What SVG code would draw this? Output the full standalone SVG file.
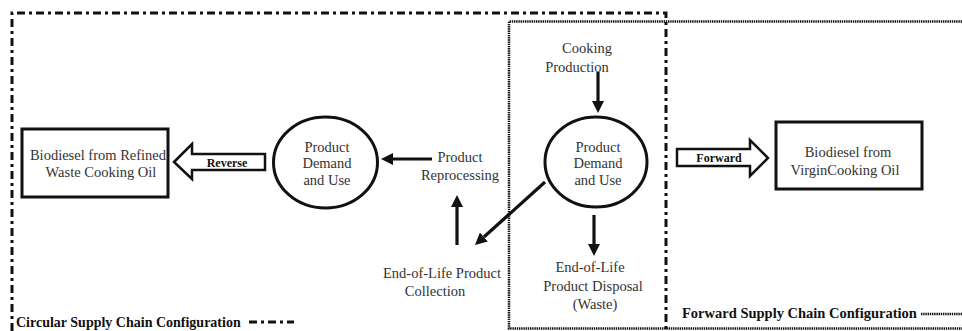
<svg xmlns="http://www.w3.org/2000/svg" width="962" height="331" viewBox="0 0 962 331">
<defs>
<style>
.nt{font-family:"Liberation Serif","Times New Roman",serif;font-size:14.5px;fill:#333;text-anchor:middle}
.lb{font-family:"Liberation Serif","Times New Roman",serif;font-size:12px;font-weight:bold;fill:#111;text-anchor:middle}
.lg{font-family:"Liberation Serif","Times New Roman",serif;font-size:14.5px;font-weight:bold;fill:#111}
.shape{fill:#fff;stroke:#111;stroke-width:3}
.hollow{fill:#fff;stroke:#111;stroke-width:2.5;stroke-linejoin:miter}
.dashdot{fill:none;stroke:#111;stroke-width:3;stroke-dasharray:8 4 3 4}
.dotted{fill:none;stroke:#111;stroke-width:2.5;stroke-dasharray:1.4 0.8}
.conn{fill:none;stroke:#111;stroke-width:3.2;marker-end:url(#ah)}
</style>
<marker id="ah" markerUnits="userSpaceOnUse" markerWidth="12" markerHeight="12" refX="0" refY="6" orient="auto" viewBox="0 0 12 12">
<path d="M0,0 L12,6 L0,12 z" fill="#111"/>
</marker>
</defs>
<rect width="962" height="331" fill="#fff"/>

<g id="circular-boundary">
<path class="dashdot" d="M12,331 L12,13 L666,13 L666,331"/>
<text class="lg" x="16" y="327" style="font-size:14px">Circular Supply Chain Configuration</text>
<line class="dashdot" x1="249" y1="322" x2="294" y2="322"/>
</g>

<g id="forward-boundary">
<path class="dotted" d="M962,21.5 L509,21.5 L509,328.5 L962,328.5"/>
<text class="lg" x="682" y="318">Forward Supply Chain Configuration</text>
<line class="dotted" x1="921" y1="314" x2="962" y2="314"/>
</g>

<g id="biodiesel-refined">
<rect class="shape" x="22" y="129" width="146" height="68"/>
<text class="nt" x="98" y="160">Biodiesel from Refined</text>
<text class="nt" x="101" y="177">Waste Cooking Oil</text>
</g>

<g id="reverse-arrow">
<polygon class="hollow" points="174,162 192,144 192,154 265,154 265,170 192,170 192,179"/>
<text class="lb" x="227" y="167">Reverse</text>
</g>

<g id="demand-left">
<ellipse class="shape" cx="325.5" cy="162.5" rx="52" ry="45.5"/>
<text class="nt" x="327" y="152">Product</text>
<text class="nt" x="327" y="168">Demand</text>
<text class="nt" x="327" y="185">and Use</text>
</g>

<g id="reprocessing">
<text class="nt" x="460" y="162">Product</text>
<text class="nt" x="460" y="180">Reprocessing</text>
</g>

<g id="collection">
<text class="nt" x="442" y="278">End-of-Life Product</text>
<text class="nt" x="435" y="296">Collection</text>
</g>

<g id="cooking-production">
<text class="nt" x="587" y="53">Cooking</text>
<text class="nt" x="577" y="72">Production</text>
</g>

<g id="demand-right">
<ellipse class="shape" cx="596" cy="162" rx="51" ry="45"/>
<text class="nt" x="598" y="152">Product</text>
<text class="nt" x="598" y="168">Demand</text>
<text class="nt" x="598" y="185">and Use</text>
</g>

<g id="disposal">
<text class="nt" x="590" y="272">End-of-Life</text>
<text class="nt" x="593" y="291">Product Disposal</text>
<text class="nt" x="595" y="309">(Waste)</text>
</g>

<g id="forward-arrow">
<polygon class="hollow" points="677,149 750,149 750,140 768,158 750,176 750,166 677,166"/>
<text class="lb" x="719" y="162">Forward</text>
</g>

<g id="biodiesel-virgin">
<rect class="shape" x="776" y="122" width="146" height="67"/>
<text class="nt" x="848" y="157">Biodiesel from</text>
<text class="nt" x="845" y="175">VirginCooking Oil</text>
</g>

<g id="connectors">
<line class="conn" x1="432" y1="159" x2="393" y2="159"/>
<line class="conn" x1="457" y1="245" x2="457" y2="207"/>
<line class="conn" x1="545" y1="182" x2="483.9" y2="237"/>
<line class="conn" x1="598" y1="72" x2="598" y2="101"/>
<line class="conn" x1="594" y1="215" x2="594" y2="244"/>
</g>
</svg>
